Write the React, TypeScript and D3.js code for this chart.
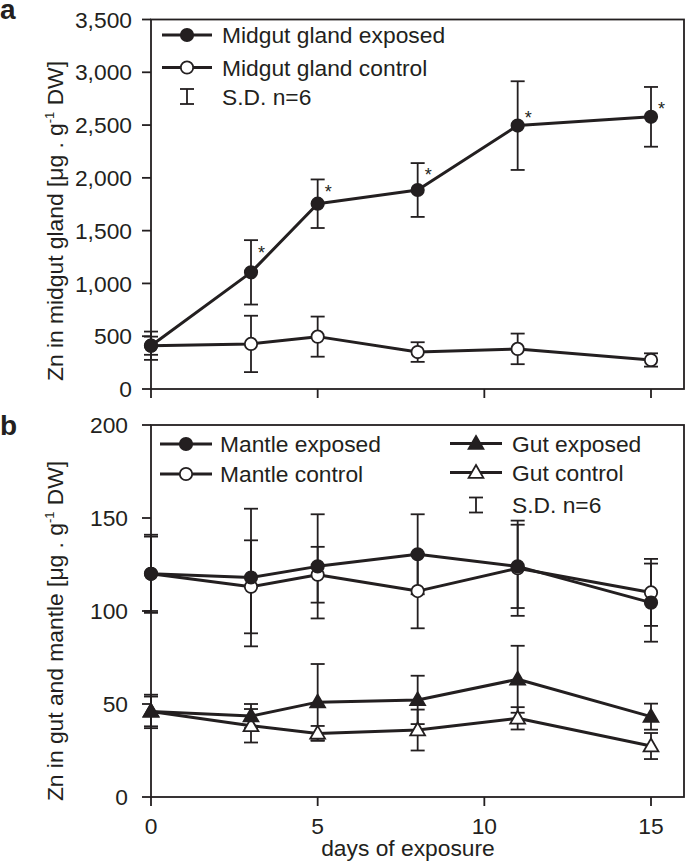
import React from "react";
import * as d3 from "d3";

// ---------- DATA ----------
const days = [0, 3, 5, 8, 11, 15];
const xTicks = [0, 5, 10, 15];

// Panel a – midgut gland
const mgExposed = [410, 1105, 1755, 1885, 2495, 2578];
const mgExposedSD = [134, 305, 230, 255, 420, 283];
const mgControl = [410, 427, 496, 350, 380, 275];
const mgControlSD = [86, 267, 190, 93, 145, 63];
const mgStarValue = [null, 1327, 1910, 2065, 2610, 2696];
const aTicks = [0, 500, 1000, 1500, 2000, 2500, 3000, 3500];

// Panel b – mantle and gut
const mantleExposed = [120, 118, 124, 130.5, 124, 104.5];
const mantleExposedSD = [21, 37, 28, 21.5, 22.4, 21];
const mantleControl = [120, 113, 119.5, 110.7, 123, 110];
const mantleControlSD = [20, 25, 15, 20, 25.6, 18];
const gutExposed = [46, 43.5, 51, 52.2, 63.3, 43.2];
const gutExposedSD = [9, 6.5, 20.5, 13, 18, 7];
const gutControl = [46, 38.3, 34.2, 36, 42.3, 27.4];
const gutControlSD = [8, 9, 4, 11, 6, 7];
const bTicks = [0, 50, 100, 150, 200];

// ---------- LAYOUT ----------
const W = 685;
const H = 862;
const FONT = "'Liberation Sans', Arial, Helvetica, sans-serif";
const INK = "#231f20";
const FS = 22.8;
const plotLeft = 151;
const plotRight = 684;
const aTop = 19.5, aBottom = 389;
const bTop = 425, bBottom = 797;

const x = d3.scaleLinear().domain([0, 15]).range([151, 651]);
const yA = d3.scaleLinear().domain([0, 3500]).range([aBottom, aTop]);
const yB = d3.scaleLinear().domain([0, 200]).range([bBottom, bTop]);

type Marker = "circleFilled" | "circleOpen" | "triFilled" | "triOpen";

function MarkerShape({ cx, cy, kind }: { cx: number; cy: number; kind: Marker }) {
  if (kind === "circleFilled" || kind === "circleOpen") {
    return (
      <circle cx={cx} cy={cy} r={6.2}
        fill={kind === "circleFilled" ? INK : "#fff"}
        stroke={INK} strokeWidth={1.8} />
    );
  }
  const tri = d3.symbol().type(d3.symbolTriangle).size(95)() as string;
  return (
    <path d={tri} transform={`translate(${cx},${cy + 1})`}
      fill={kind === "triFilled" ? INK : "#fff"} stroke={INK} strokeWidth={1.8} />
  );
}

function ErrorBars({ vals, sds, y }: { vals: number[]; sds: number[]; y: d3.ScaleLinear<number, number> }) {
  return (
    <g stroke={INK} strokeWidth={1.8}>
      {days.map((d, i) => {
        const cx = x(d);
        const t = y(vals[i] + sds[i]);
        const b = y(vals[i] - sds[i]);
        return (
          <g key={i}>
            <line x1={cx} x2={cx} y1={t} y2={b} />
            <line x1={cx - 7} x2={cx + 7} y1={t} y2={t} />
            <line x1={cx - 7} x2={cx + 7} y1={b} y2={b} />
          </g>
        );
      })}
    </g>
  );
}

function Series({ vals, y, kind }: { vals: number[]; y: d3.ScaleLinear<number, number>; kind: Marker }) {
  const line = d3.line<number>().x((_, i) => x(days[i])).y((v) => y(v));
  return (
    <g>
      <path d={line(vals) as string} fill="none" stroke={INK} strokeWidth={3} strokeLinejoin="round" />
      {vals.map((v, i) => (
        <MarkerShape key={i} cx={x(days[i])} cy={y(v)} kind={kind} />
      ))}
    </g>
  );
}

function LegendItem({ x1, x2, y, kind, label, tx }: { x1: number; x2: number; y: number; kind: Marker; label: string; tx: number }) {
  return (
    <g>
      <line x1={x1} x2={x2} y1={y} y2={y} stroke={INK} strokeWidth={3} />
      <MarkerShape cx={(x1 + x2) / 2} cy={y} kind={kind} />
      <text x={tx} y={y + 8} fontSize={FS} fill={INK}>{label}</text>
    </g>
  );
}

function LegendSD({ cx, y, tx }: { cx: number; y: number; tx: number }) {
  return (
    <g>
      <g stroke={INK} strokeWidth={1.8}>
        <line x1={cx} x2={cx} y1={y - 7.5} y2={y + 7.5} />
        <line x1={cx - 7} x2={cx + 7} y1={y - 7.5} y2={y - 7.5} />
        <line x1={cx - 7} x2={cx + 7} y1={y + 7.5} y2={y + 7.5} />
      </g>
      <text x={tx} y={y + 8} fontSize={FS} fill={INK}>S.D. n=6</text>
    </g>
  );
}

function Frame({ top, bottom, ticks, y, fmt, labelX, showXLabels }: {
  top: number; bottom: number; ticks: number[]; y: d3.ScaleLinear<number, number>;
  fmt: (v: number) => string; labelX: number; showXLabels: boolean;
}) {
  return (
    <g>
      <rect x={plotLeft} y={top} width={plotRight - plotLeft} height={bottom - top}
        fill="none" stroke={INK} strokeWidth={1.8} />
      {ticks.map((t) => (
        <g key={t}>
          <line x1={plotLeft - 9} x2={plotLeft} y1={y(t)} y2={y(t)} stroke={INK} strokeWidth={1.8} />
          <text x={labelX} y={y(t)} dy="0.36em" textAnchor="end" fontSize={FS} fill={INK}>{fmt(t)}</text>
        </g>
      ))}
      {xTicks.map((t) => (
        <g key={t}>
          <line x1={x(t)} x2={x(t)} y1={bottom} y2={bottom + 9} stroke={INK} strokeWidth={1.8} />
          {showXLabels && (
            <text x={x(t)} y={bottom + 37} textAnchor="middle" fontSize={FS} fill={INK}>{t}</text>
          )}
        </g>
      ))}
    </g>
  );
}

function YTitle({ cx, cy, main }: { cx: number; cy: number; main: string }) {
  return (
    <text transform={`translate(${cx},${cy}) rotate(-90)`} textAnchor="middle" fontSize={FS} fill={INK}>
      {main} [μg . g<tspan fontSize={13} dy={-9}>-1</tspan><tspan dy={9}> DW]</tspan>
    </text>
  );
}

export default function App() {
  const fmtA = d3.format(",");
  return (
    <div style={{ position: "absolute", left: 0, top: 0 }}>
      <svg width={W} height={H} viewBox={`0 0 ${W} ${H}`} style={{ display: "block", fontFamily: FONT }}>
        <rect width={W} height={H} fill="#fff" />

        {/* ---------- Panel a ---------- */}
        <text x={0} y={19} fontSize={28} fontWeight="bold" fill={INK}>a</text>
        <Frame top={aTop} bottom={aBottom} ticks={aTicks} y={yA} fmt={fmtA} labelX={132} showXLabels={false} />
        <YTitle cx={63} cy={221} main="Zn in midgut gland" />
        <ErrorBars vals={mgExposed} sds={mgExposedSD} y={yA} />
        <ErrorBars vals={mgControl} sds={mgControlSD} y={yA} />
        <Series vals={mgControl} y={yA} kind="circleOpen" />
        <Series vals={mgExposed} y={yA} kind="circleFilled" />
        {mgStarValue.map((v, i) =>
          v == null ? null : (
            <text key={i} x={x(days[i]) + 10.5} y={yA(v) + 10.5} textAnchor="middle" fontSize={18} fill={INK}>*</text>
          )
        )}
        <LegendItem x1={162} x2={212} y={35} kind="circleFilled" label="Midgut gland exposed" tx={222} />
        <LegendItem x1={162} x2={212} y={67.5} kind="circleOpen" label="Midgut gland control" tx={222} />
        <LegendSD cx={187} y={96.5} tx={222} />

        {/* ---------- Panel b ---------- */}
        <text x={0} y={435} fontSize={28} fontWeight="bold" fill={INK}>b</text>
        <Frame top={bTop} bottom={bBottom} ticks={bTicks} y={yB} fmt={(v) => String(v)} labelX={128} showXLabels={true} />
        <YTitle cx={63} cy={631} main="Zn in gut and mantle" />
        <text x={408} y={856} textAnchor="middle" fontSize={FS} fill={INK}>days of exposure</text>
        <ErrorBars vals={mantleExposed} sds={mantleExposedSD} y={yB} />
        <ErrorBars vals={mantleControl} sds={mantleControlSD} y={yB} />
        <ErrorBars vals={gutExposed} sds={gutExposedSD} y={yB} />
        <ErrorBars vals={gutControl} sds={gutControlSD} y={yB} />
        <Series vals={mantleControl} y={yB} kind="circleOpen" />
        <Series vals={mantleExposed} y={yB} kind="circleFilled" />
        <Series vals={gutControl} y={yB} kind="triOpen" />
        <Series vals={gutExposed} y={yB} kind="triFilled" />
        <LegendItem x1={160} x2={212} y={444} kind="circleFilled" label="Mantle exposed" tx={220} />
        <LegendItem x1={160} x2={212} y={474} kind="circleOpen" label="Mantle control" tx={220} />
        <LegendItem x1={450} x2={502} y={443.5} kind="triFilled" label="Gut exposed" tx={512} />
        <LegendItem x1={450} x2={502} y={472.5} kind="triOpen" label="Gut control" tx={512} />
        <LegendSD cx={476} y={505} tx={512} />
      </svg>
    </div>
  );
}
